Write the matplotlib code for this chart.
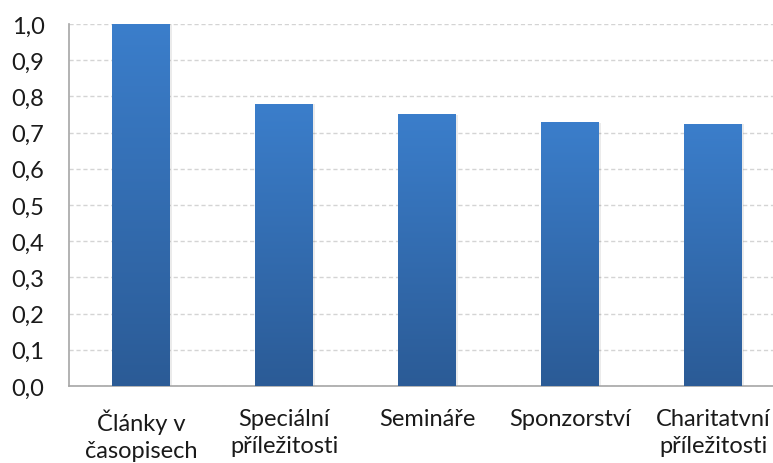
import numpy as np
import matplotlib.pyplot as plt
from matplotlib.colors import LinearSegmentedColormap

categories = ["Články v\nčasopisech", "Speciální\npříležitosti", "Semináře",
              "Sponzorství", "Charitatvní\npříležitosti"]
values = [1.0, 0.778, 0.749, 0.727, 0.723]
y_ticks = [0.0, 0.1, 0.2, 0.3, 0.4, 0.5, 0.6, 0.7, 0.8, 0.9, 1.0]
y_labels = ["0,0", "0,1", "0,2", "0,3", "0,4", "0,5", "0,6", "0,7", "0,8", "0,9", "1,0"]

plt.rcParams['font.family'] = ['Lato', 'DejaVu Sans']

fig = plt.figure(figsize=(7.73, 4.64), dpi=100)
ax = fig.add_axes([0.0899, 0.166, 0.925, 0.780])

x = np.arange(len(categories))
bars = ax.bar(x, values, width=0.4, color='none', zorder=3)

# blue gradient fill, darker towards the base
grad = LinearSegmentedColormap.from_list("blues", ["#2b5b96", "#3b7ecb"])
ramp = np.linspace(0, 1, 256).reshape(-1, 1)
for b in bars:
    x0, y0 = b.get_x(), b.get_y()
    w, h = b.get_width(), b.get_height()
    # soft shadow on the right side
    ax.bar(x0 + w / 2 + 0.012, h, width=w + 0.01, color='#000000', alpha=0.08,
           zorder=2)
    ax.imshow(ramp, cmap=grad, origin='lower', aspect='auto',
              extent=(x0, x0 + w, y0, y0 + h), zorder=3)

ax.set_xlim(-0.5, len(categories) - 0.5)
ax.set_ylim(0, 1.0)
ax.set_yticks(y_ticks)
ax.set_yticklabels(y_labels)
ax.set_xticks(x)
ax.set_xticklabels(categories, linespacing=1.35)

ax.yaxis.grid(True, linestyle=(0, (3, 2)), color='#d4d4d4', linewidth=1, zorder=0)
ax.set_axisbelow(True)
ax.tick_params(axis='y', length=0, pad=18, labelsize=17, colors='#1a1a1a')
ax.tick_params(axis='x', length=0, pad=16, labelsize=17, colors='#1a1a1a')

for side in ['top', 'right']:
    ax.spines[side].set_visible(False)
for side in ['left', 'bottom']:
    ax.spines[side].set_color('#a6a6a6')
    ax.spines[side].set_linewidth(1.2)

plt.savefig('out.png', dpi=100)
